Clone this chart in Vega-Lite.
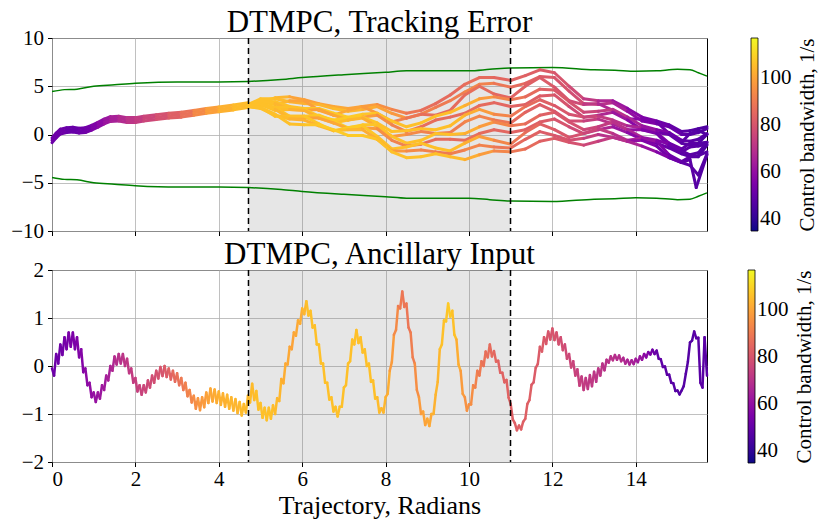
{
  "$schema": "https://vega.github.io/schema/vega-lite/v6.json",
  "padding": {"left": 10, "top": 6, "right": 2, "bottom": 2},
  "spacing": 39,
  "bounds": "flush",
  "resolve": {"scale": {"color": "independent"}},
  "datasets": {
    "span": [{"x0": 4.712, "x1": 10.996}],
    "marks": [{"x": 4.712}, {"x": 10.996}],
    "bounds": [
      {"s": "u", "x": 0, "y": 4.45}, {"s": "u", "x": 0.3, "y": 4.65}, {"s": "u", "x": 0.6, "y": 4.7}, {"s": "u", "x": 1.0, "y": 5.0}, {"s": "u", "x": 1.5, "y": 5.15}, {"s": "u", "x": 2.0, "y": 5.3}, {"s": "u", "x": 3.0, "y": 5.45}, {"s": "u", "x": 4.0, "y": 5.45}, {"s": "u", "x": 4.7, "y": 5.5}, {"s": "u", "x": 5.5, "y": 5.7}, {"s": "u", "x": 6.0, "y": 5.9}, {"s": "u", "x": 7.0, "y": 6.2}, {"s": "u", "x": 8.0, "y": 6.45}, {"s": "u", "x": 8.5, "y": 6.6}, {"s": "u", "x": 9.0, "y": 6.6}, {"s": "u", "x": 9.5, "y": 6.6}, {"s": "u", "x": 10.0, "y": 6.6}, {"s": "u", "x": 10.5, "y": 6.75}, {"s": "u", "x": 11.0, "y": 6.9}, {"s": "u", "x": 12.0, "y": 6.95}, {"s": "u", "x": 13.0, "y": 6.7}, {"s": "u", "x": 13.5, "y": 6.65}, {"s": "u", "x": 14.0, "y": 6.55}, {"s": "u", "x": 14.5, "y": 6.6}, {"s": "u", "x": 15.0, "y": 6.75}, {"s": "u", "x": 15.3, "y": 6.7}, {"s": "u", "x": 15.5, "y": 6.4}, {"s": "u", "x": 15.708, "y": 6.05},
      {"s": "l", "x": 0, "y": -4.45}, {"s": "l", "x": 0.3, "y": -4.65}, {"s": "l", "x": 0.6, "y": -4.7}, {"s": "l", "x": 1.0, "y": -5.0}, {"s": "l", "x": 1.5, "y": -5.15}, {"s": "l", "x": 2.0, "y": -5.3}, {"s": "l", "x": 3.0, "y": -5.45}, {"s": "l", "x": 4.0, "y": -5.45}, {"s": "l", "x": 4.7, "y": -5.5}, {"s": "l", "x": 5.5, "y": -5.7}, {"s": "l", "x": 6.0, "y": -5.9}, {"s": "l", "x": 7.0, "y": -6.2}, {"s": "l", "x": 8.0, "y": -6.45}, {"s": "l", "x": 8.5, "y": -6.6}, {"s": "l", "x": 9.0, "y": -6.6}, {"s": "l", "x": 9.5, "y": -6.6}, {"s": "l", "x": 10.0, "y": -6.6}, {"s": "l", "x": 10.5, "y": -6.75}, {"s": "l", "x": 11.0, "y": -6.9}, {"s": "l", "x": 12.0, "y": -6.95}, {"s": "l", "x": 13.0, "y": -6.7}, {"s": "l", "x": 13.5, "y": -6.65}, {"s": "l", "x": 14.0, "y": -6.55}, {"s": "l", "x": 14.5, "y": -6.6}, {"s": "l", "x": 15.0, "y": -6.75}, {"s": "l", "x": 15.3, "y": -6.7}, {"s": "l", "x": 15.5, "y": -6.4}, {"s": "l", "x": 15.708, "y": -6.05}
    ],
    "top": [
      {"t":21,"x":0.0,"y":-0.85,"b":52},{"t":21,"x":0.1,"y":-0.35,"b":52},{"t":21,"x":0.2,"y":0.05,"b":52},{"t":21,"x":0.35,"y":0.2,"b":51},{"t":21,"x":0.5,"y":0.25,"b":51},{"t":21,"x":0.65,"y":0.15,"b":52},{"t":21,"x":0.8,"y":0.2,"b":53},{"t":21,"x":0.95,"y":0.45,"b":56},{"t":21,"x":1.1,"y":0.75,"b":59},{"t":21,"x":1.25,"y":1.1,"b":62},{"t":21,"x":1.4,"y":1.35,"b":65},{"t":21,"x":1.6,"y":1.4,"b":68},{"t":21,"x":1.8,"y":1.25,"b":71},{"t":21,"x":2.0,"y":1.25,"b":73},{"t":21,"x":2.2,"y":1.4,"b":76},{"t":21,"x":2.5,"y":1.55,"b":79},{"t":21,"x":2.8,"y":1.7,"b":83},{"t":21,"x":3.1,"y":1.8,"b":88},{"t":21,"x":3.4,"y":2.0,"b":94},{"t":21,"x":3.7,"y":2.2,"b":99},{"t":21,"x":4.0,"y":2.35,"b":103},{"t":21,"x":4.35,"y":2.55,"b":105},{"t":21,"x":4.7,"y":2.8,"b":106},
      {"t":22,"x":0.0,"y":-0.6,"b":52},{"t":22,"x":0.1,"y":-0.1,"b":52},{"t":22,"x":0.2,"y":0.3,"b":52},{"t":22,"x":0.35,"y":0.45,"b":51},{"t":22,"x":0.5,"y":0.5,"b":51},{"t":22,"x":0.65,"y":0.4,"b":52},{"t":22,"x":0.8,"y":0.45,"b":53},{"t":22,"x":0.95,"y":0.7,"b":56},{"t":22,"x":1.1,"y":1.0,"b":59},{"t":22,"x":1.25,"y":1.35,"b":62},{"t":22,"x":1.4,"y":1.6,"b":65},{"t":22,"x":1.6,"y":1.65,"b":68},{"t":22,"x":1.8,"y":1.5,"b":71},{"t":22,"x":2.0,"y":1.5,"b":73},{"t":22,"x":2.2,"y":1.65,"b":76},{"t":22,"x":2.5,"y":1.8,"b":79},{"t":22,"x":2.8,"y":1.95,"b":83},{"t":22,"x":3.1,"y":2.05,"b":88},{"t":22,"x":3.4,"y":2.25,"b":94},{"t":22,"x":3.7,"y":2.45,"b":99},{"t":22,"x":4.0,"y":2.6,"b":103},{"t":22,"x":4.35,"y":2.8,"b":105},{"t":22,"x":4.7,"y":3.05,"b":106},
      {"t":23,"x":0.0,"y":-0.35,"b":52},{"t":23,"x":0.1,"y":0.15,"b":52},{"t":23,"x":0.2,"y":0.55,"b":52},{"t":23,"x":0.35,"y":0.7,"b":51},{"t":23,"x":0.5,"y":0.75,"b":51},{"t":23,"x":0.65,"y":0.65,"b":52},{"t":23,"x":0.8,"y":0.7,"b":53},{"t":23,"x":0.95,"y":0.95,"b":56},{"t":23,"x":1.1,"y":1.25,"b":59},{"t":23,"x":1.25,"y":1.6,"b":62},{"t":23,"x":1.4,"y":1.85,"b":65},{"t":23,"x":1.6,"y":1.9,"b":68},{"t":23,"x":1.8,"y":1.75,"b":71},{"t":23,"x":2.0,"y":1.75,"b":73},{"t":23,"x":2.2,"y":1.9,"b":76},{"t":23,"x":2.5,"y":2.05,"b":79},{"t":23,"x":2.8,"y":2.2,"b":83},{"t":23,"x":3.1,"y":2.3,"b":88},{"t":23,"x":3.4,"y":2.5,"b":94},{"t":23,"x":3.7,"y":2.7,"b":99},{"t":23,"x":4.0,"y":2.85,"b":103},{"t":23,"x":4.35,"y":3.05,"b":105},{"t":23,"x":4.7,"y":3.3,"b":106},
      {"t":1,"x":4.7,"y":3.15,"b":106},{"t":1,"x":5.0,"y":3.4,"b":106},{"t":1,"x":5.35,"y":3.8,"b":104},{"t":1,"x":5.7,"y":3.9,"b":100},{"t":1,"x":6.05,"y":3.6,"b":99},{"t":1,"x":6.4,"y":3.2,"b":100},{"t":1,"x":6.75,"y":2.9,"b":101},{"t":1,"x":7.1,"y":2.7,"b":100},{"t":1,"x":7.45,"y":2.9,"b":98},{"t":1,"x":7.8,"y":3.1,"b":95},{"t":1,"x":8.15,"y":2.6,"b":92},{"t":1,"x":8.5,"y":2.2,"b":89},{"t":1,"x":8.85,"y":2.5,"b":87},{"t":1,"x":9.2,"y":3.2,"b":86},{"t":1,"x":9.55,"y":4.1,"b":86},{"t":1,"x":9.9,"y":5.2,"b":87},{"t":1,"x":10.25,"y":5.9,"b":86},{"t":1,"x":10.6,"y":5.9,"b":85},{"t":1,"x":11.0,"y":5.6,"b":84},{"t":1,"x":11.35,"y":6.1,"b":83},{"t":1,"x":11.7,"y":6.7,"b":82},{"t":1,"x":12.05,"y":6.4,"b":80},{"t":1,"x":12.4,"y":5.0,"b":77},{"t":1,"x":12.75,"y":3.7,"b":72},{"t":1,"x":13.1,"y":3.5,"b":67},{"t":1,"x":13.45,"y":3.5,"b":62},{"t":1,"x":13.8,"y":2.7,"b":58},{"t":1,"x":14.15,"y":1.8,"b":55},{"t":1,"x":14.5,"y":1.4,"b":52},{"t":1,"x":14.8,"y":1.0,"b":50},{"t":1,"x":15.1,"y":0.3,"b":48},{"t":1,"x":15.3,"y":0.4,"b":47},{"t":1,"x":15.5,"y":0.6,"b":46},{"t":1,"x":15.708,"y":0.8,"b":46},
      {"t":2,"x":4.7,"y":3.1,"b":106},{"t":2,"x":5.0,"y":3.7,"b":106},{"t":2,"x":5.35,"y":3.7,"b":105},{"t":2,"x":5.7,"y":3.4,"b":103},{"t":2,"x":6.05,"y":3.2,"b":103},{"t":2,"x":6.4,"y":3.1,"b":104},{"t":2,"x":6.75,"y":2.7,"b":105},{"t":2,"x":7.1,"y":2.4,"b":104},{"t":2,"x":7.45,"y":2.6,"b":102},{"t":2,"x":7.8,"y":2.9,"b":100},{"t":2,"x":8.15,"y":2.2,"b":97},{"t":2,"x":8.5,"y":1.7,"b":94},{"t":2,"x":8.85,"y":2.1,"b":92},{"t":2,"x":9.2,"y":2.8,"b":90},{"t":2,"x":9.55,"y":3.5,"b":91},{"t":2,"x":9.9,"y":4.4,"b":93},{"t":2,"x":10.25,"y":5.2,"b":92},{"t":2,"x":10.6,"y":5.3,"b":89},{"t":2,"x":11.0,"y":4.9,"b":86},{"t":2,"x":11.35,"y":5.3,"b":84},{"t":2,"x":11.7,"y":6.0,"b":82},{"t":2,"x":12.05,"y":5.9,"b":80},{"t":2,"x":12.4,"y":4.5,"b":78},{"t":2,"x":12.75,"y":3.2,"b":74},{"t":2,"x":13.1,"y":3.1,"b":70},{"t":2,"x":13.45,"y":3.3,"b":65},{"t":2,"x":13.8,"y":2.4,"b":60},{"t":2,"x":14.15,"y":1.4,"b":56},{"t":2,"x":14.5,"y":1.1,"b":53},{"t":2,"x":14.8,"y":0.8,"b":51},{"t":2,"x":15.1,"y":0.0,"b":49},{"t":2,"x":15.3,"y":0.0,"b":48},{"t":2,"x":15.5,"y":0.2,"b":47},{"t":2,"x":15.708,"y":0.6,"b":46},
      {"t":3,"x":4.7,"y":3.1,"b":106},{"t":3,"x":5.0,"y":3.4,"b":106},{"t":3,"x":5.35,"y":3.1,"b":104},{"t":3,"x":5.7,"y":3.5,"b":100},{"t":3,"x":6.05,"y":3.5,"b":99},{"t":3,"x":6.4,"y":2.5,"b":100},{"t":3,"x":6.75,"y":2.0,"b":101},{"t":3,"x":7.1,"y":2.5,"b":100},{"t":3,"x":7.45,"y":2.9,"b":98},{"t":3,"x":7.8,"y":2.2,"b":95},{"t":3,"x":8.15,"y":1.3,"b":92},{"t":3,"x":8.5,"y":1.7,"b":89},{"t":3,"x":8.85,"y":2.1,"b":87},{"t":3,"x":9.2,"y":2.0,"b":86},{"t":3,"x":9.55,"y":2.5,"b":86},{"t":3,"x":9.9,"y":4.1,"b":87},{"t":3,"x":10.25,"y":5.0,"b":86},{"t":3,"x":10.6,"y":4.2,"b":85},{"t":3,"x":11.0,"y":3.8,"b":84},{"t":3,"x":11.35,"y":5.0,"b":83},{"t":3,"x":11.7,"y":5.9,"b":82},{"t":3,"x":12.05,"y":4.9,"b":80},{"t":3,"x":12.4,"y":3.5,"b":77},{"t":3,"x":12.75,"y":3.1,"b":72},{"t":3,"x":13.1,"y":3.2,"b":67},{"t":3,"x":13.45,"y":2.5,"b":62},{"t":3,"x":13.8,"y":1.6,"b":58},{"t":3,"x":14.15,"y":1.6,"b":55},{"t":3,"x":14.5,"y":1.3,"b":52},{"t":3,"x":14.8,"y":0.1,"b":50},{"t":3,"x":15.1,"y":-0.8,"b":48},{"t":3,"x":15.3,"y":0.1,"b":47},{"t":3,"x":15.5,"y":0.4,"b":46},{"t":3,"x":15.708,"y":0.0,"b":46},
      {"t":4,"x":4.7,"y":3.1,"b":106},{"t":4,"x":5.0,"y":3.5,"b":106},{"t":4,"x":5.35,"y":3.4,"b":106},{"t":4,"x":5.7,"y":2.9,"b":106},{"t":4,"x":6.05,"y":2.7,"b":107},{"t":4,"x":6.4,"y":2.7,"b":108},{"t":4,"x":6.75,"y":2.2,"b":108},{"t":4,"x":7.1,"y":1.8,"b":108},{"t":4,"x":7.45,"y":2.1,"b":107},{"t":4,"x":7.8,"y":2.2,"b":106},{"t":4,"x":8.15,"y":1.4,"b":106},{"t":4,"x":8.5,"y":0.8,"b":106},{"t":4,"x":8.85,"y":1.2,"b":106},{"t":4,"x":9.2,"y":1.9,"b":106},{"t":4,"x":9.55,"y":2.3,"b":105},{"t":4,"x":9.9,"y":3.0,"b":102},{"t":4,"x":10.25,"y":3.7,"b":98},{"t":4,"x":10.6,"y":3.9,"b":93},{"t":4,"x":11.0,"y":3.6,"b":89},{"t":4,"x":11.35,"y":3.9,"b":86},{"t":4,"x":11.7,"y":4.7,"b":83},{"t":4,"x":12.05,"y":4.6,"b":81},{"t":4,"x":12.4,"y":3.4,"b":79},{"t":4,"x":12.75,"y":2.3,"b":76},{"t":4,"x":13.1,"y":2.4,"b":73},{"t":4,"x":13.45,"y":2.6,"b":70},{"t":4,"x":13.8,"y":1.8,"b":66},{"t":4,"x":14.15,"y":0.9,"b":61},{"t":4,"x":14.5,"y":0.5,"b":56},{"t":4,"x":14.8,"y":0.2,"b":52},{"t":4,"x":15.1,"y":-0.6,"b":49},{"t":4,"x":15.3,"y":-0.7,"b":48},{"t":4,"x":15.5,"y":-0.5,"b":47},{"t":4,"x":15.708,"y":0.1,"b":47},
      {"t":5,"x":4.7,"y":3.0,"b":106},{"t":5,"x":5.0,"y":3.5,"b":106},{"t":5,"x":5.35,"y":3.2,"b":104},{"t":5,"x":5.7,"y":2.6,"b":100},{"t":5,"x":6.05,"y":2.5,"b":99},{"t":5,"x":6.4,"y":2.6,"b":100},{"t":5,"x":6.75,"y":2.0,"b":101},{"t":5,"x":7.1,"y":1.5,"b":100},{"t":5,"x":7.45,"y":1.8,"b":98},{"t":5,"x":7.8,"y":2.0,"b":95},{"t":5,"x":8.15,"y":1.0,"b":92},{"t":5,"x":8.5,"y":0.3,"b":89},{"t":5,"x":8.85,"y":0.8,"b":87},{"t":5,"x":9.2,"y":1.5,"b":86},{"t":5,"x":9.55,"y":1.8,"b":86},{"t":5,"x":9.9,"y":2.2,"b":87},{"t":5,"x":10.25,"y":3.0,"b":86},{"t":5,"x":10.6,"y":3.3,"b":85},{"t":5,"x":11.0,"y":2.9,"b":84},{"t":5,"x":11.35,"y":3.1,"b":83},{"t":5,"x":11.7,"y":4.0,"b":82},{"t":5,"x":12.05,"y":4.1,"b":80},{"t":5,"x":12.4,"y":2.9,"b":77},{"t":5,"x":12.75,"y":1.8,"b":72},{"t":5,"x":13.1,"y":2.0,"b":67},{"t":5,"x":13.45,"y":2.3,"b":62},{"t":5,"x":13.8,"y":1.5,"b":58},{"t":5,"x":14.15,"y":0.5,"b":55},{"t":5,"x":14.5,"y":0.2,"b":52},{"t":5,"x":14.8,"y":0.0,"b":50},{"t":5,"x":15.1,"y":-0.9,"b":48},{"t":5,"x":15.3,"y":-1.1,"b":47},{"t":5,"x":15.5,"y":-0.9,"b":46},{"t":5,"x":15.708,"y":0.0,"b":46},
      {"t":6,"x":4.7,"y":3.0,"b":106},{"t":6,"x":5.0,"y":3.1,"b":106},{"t":6,"x":5.35,"y":2.8,"b":106},{"t":6,"x":5.7,"y":2.8,"b":106},{"t":6,"x":6.05,"y":2.6,"b":107},{"t":6,"x":6.4,"y":1.9,"b":108},{"t":6,"x":6.75,"y":1.5,"b":108},{"t":6,"x":7.1,"y":1.7,"b":108},{"t":6,"x":7.45,"y":1.8,"b":107},{"t":6,"x":7.8,"y":1.2,"b":106},{"t":6,"x":8.15,"y":0.3,"b":106},{"t":6,"x":8.5,"y":0.4,"b":106},{"t":6,"x":8.85,"y":0.6,"b":106},{"t":6,"x":9.2,"y":0.5,"b":106},{"t":6,"x":9.55,"y":0.9,"b":105},{"t":6,"x":9.9,"y":2.0,"b":102},{"t":6,"x":10.25,"y":2.6,"b":98},{"t":6,"x":10.6,"y":2.1,"b":93},{"t":6,"x":11.0,"y":1.9,"b":89},{"t":6,"x":11.35,"y":2.9,"b":86},{"t":6,"x":11.7,"y":3.6,"b":83},{"t":6,"x":12.05,"y":3.0,"b":81},{"t":6,"x":12.4,"y":2.1,"b":79},{"t":6,"x":12.75,"y":1.8,"b":76},{"t":6,"x":13.1,"y":1.9,"b":73},{"t":6,"x":13.45,"y":1.5,"b":70},{"t":6,"x":13.8,"y":0.9,"b":66},{"t":6,"x":14.15,"y":0.7,"b":61},{"t":6,"x":14.5,"y":0.2,"b":56},{"t":6,"x":14.8,"y":-0.9,"b":52},{"t":6,"x":15.1,"y":-1.5,"b":49},{"t":6,"x":15.3,"y":-0.9,"b":48},{"t":6,"x":15.5,"y":-0.9,"b":47},{"t":6,"x":15.708,"y":-0.8,"b":47},
      {"t":7,"x":4.7,"y":3.0,"b":106},{"t":7,"x":5.0,"y":3.1,"b":106},{"t":7,"x":5.35,"y":2.5,"b":105},{"t":7,"x":5.7,"y":2.6,"b":103},{"t":7,"x":6.05,"y":2.5,"b":103},{"t":7,"x":6.4,"y":1.7,"b":104},{"t":7,"x":6.75,"y":1.2,"b":105},{"t":7,"x":7.1,"y":1.5,"b":104},{"t":7,"x":7.45,"y":1.7,"b":102},{"t":7,"x":7.8,"y":0.8,"b":100},{"t":7,"x":8.15,"y":-0.2,"b":97},{"t":7,"x":8.5,"y":0.0,"b":94},{"t":7,"x":8.85,"y":0.3,"b":92},{"t":7,"x":9.2,"y":0.1,"b":90},{"t":7,"x":9.55,"y":0.2,"b":91},{"t":7,"x":9.9,"y":1.3,"b":93},{"t":7,"x":10.25,"y":1.9,"b":92},{"t":7,"x":10.6,"y":1.5,"b":89},{"t":7,"x":11.0,"y":1.2,"b":86},{"t":7,"x":11.35,"y":2.3,"b":84},{"t":7,"x":11.7,"y":3.1,"b":82},{"t":7,"x":12.05,"y":2.4,"b":80},{"t":7,"x":12.4,"y":1.4,"b":78},{"t":7,"x":12.75,"y":1.4,"b":74},{"t":7,"x":13.1,"y":1.6,"b":70},{"t":7,"x":13.45,"y":1.1,"b":65},{"t":7,"x":13.8,"y":0.5,"b":60},{"t":7,"x":14.15,"y":0.5,"b":56},{"t":7,"x":14.5,"y":0.1,"b":53},{"t":7,"x":14.8,"y":-1.2,"b":51},{"t":7,"x":15.1,"y":-1.8,"b":49},{"t":7,"x":15.3,"y":-1.3,"b":48},{"t":7,"x":15.5,"y":-1.2,"b":47},{"t":7,"x":15.708,"y":-1.0,"b":46},
      {"t":8,"x":4.7,"y":3.0,"b":106},{"t":8,"x":5.0,"y":3.2,"b":106},{"t":8,"x":5.35,"y":2.8,"b":106},{"t":8,"x":5.7,"y":1.9,"b":106},{"t":8,"x":6.05,"y":1.9,"b":107},{"t":8,"x":6.4,"y":2.0,"b":108},{"t":8,"x":6.75,"y":1.4,"b":108},{"t":8,"x":7.1,"y":0.7,"b":108},{"t":8,"x":7.45,"y":1.0,"b":107},{"t":8,"x":7.8,"y":1.0,"b":106},{"t":8,"x":8.15,"y":-0.2,"b":106},{"t":8,"x":8.5,"y":-0.9,"b":106},{"t":8,"x":8.85,"y":-0.6,"b":106},{"t":8,"x":9.2,"y":0.1,"b":106},{"t":8,"x":9.55,"y":0.0,"b":105},{"t":8,"x":9.9,"y":0.1,"b":102},{"t":8,"x":10.25,"y":0.8,"b":98},{"t":8,"x":10.6,"y":1.3,"b":93},{"t":8,"x":11.0,"y":0.9,"b":89},{"t":8,"x":11.35,"y":1.1,"b":86},{"t":8,"x":11.7,"y":2.0,"b":83},{"t":8,"x":12.05,"y":2.3,"b":81},{"t":8,"x":12.4,"y":1.3,"b":79},{"t":8,"x":12.75,"y":0.5,"b":76},{"t":8,"x":13.1,"y":0.8,"b":73},{"t":8,"x":13.45,"y":1.3,"b":70},{"t":8,"x":13.8,"y":0.5,"b":66},{"t":8,"x":14.15,"y":-0.3,"b":61},{"t":8,"x":14.5,"y":-0.6,"b":56},{"t":8,"x":14.8,"y":-1.0,"b":52},{"t":8,"x":15.1,"y":-1.7,"b":49},{"t":8,"x":15.3,"y":-2.1,"b":48},{"t":8,"x":15.5,"y":-1.9,"b":47},{"t":8,"x":15.708,"y":-0.8,"b":47},
      {"t":9,"x":4.7,"y":2.9,"b":106},{"t":9,"x":5.0,"y":3.1,"b":106},{"t":9,"x":5.35,"y":2.6,"b":104},{"t":9,"x":5.7,"y":1.7,"b":100},{"t":9,"x":6.05,"y":1.7,"b":99},{"t":9,"x":6.4,"y":1.7,"b":100},{"t":9,"x":6.75,"y":1.2,"b":101},{"t":9,"x":7.1,"y":0.6,"b":100},{"t":9,"x":7.45,"y":0.7,"b":98},{"t":9,"x":7.8,"y":0.6,"b":95},{"t":9,"x":8.15,"y":-0.6,"b":92},{"t":9,"x":8.5,"y":-1.2,"b":89},{"t":9,"x":8.85,"y":-1.0,"b":87},{"t":9,"x":9.2,"y":-0.5,"b":86},{"t":9,"x":9.55,"y":-0.5,"b":86},{"t":9,"x":9.9,"y":-0.6,"b":87},{"t":9,"x":10.25,"y":0.1,"b":86},{"t":9,"x":10.6,"y":0.5,"b":85},{"t":9,"x":11.0,"y":0.2,"b":84},{"t":9,"x":11.35,"y":0.5,"b":83},{"t":9,"x":11.7,"y":1.3,"b":82},{"t":9,"x":12.05,"y":1.6,"b":80},{"t":9,"x":12.4,"y":0.8,"b":77},{"t":9,"x":12.75,"y":0.1,"b":72},{"t":9,"x":13.1,"y":0.5,"b":67},{"t":9,"x":13.45,"y":0.8,"b":62},{"t":9,"x":13.8,"y":0.2,"b":58},{"t":9,"x":14.15,"y":-0.5,"b":55},{"t":9,"x":14.5,"y":-0.9,"b":52},{"t":9,"x":14.8,"y":-1.4,"b":50},{"t":9,"x":15.1,"y":-2.0,"b":48},{"t":9,"x":15.3,"y":-2.3,"b":47},{"t":9,"x":15.5,"y":-2.3,"b":46},{"t":9,"x":15.708,"y":-1.1,"b":46},
      {"t":10,"x":4.7,"y":2.9,"b":106},{"t":10,"x":5.0,"y":2.8,"b":106},{"t":10,"x":5.35,"y":1.9,"b":106},{"t":10,"x":5.7,"y":1.9,"b":106},{"t":10,"x":6.05,"y":1.9,"b":107},{"t":10,"x":6.4,"y":1.1,"b":108},{"t":10,"x":6.75,"y":0.4,"b":108},{"t":10,"x":7.1,"y":0.7,"b":108},{"t":10,"x":7.45,"y":0.9,"b":107},{"t":10,"x":7.8,"y":-0.2,"b":106},{"t":10,"x":8.15,"y":-1.5,"b":106},{"t":10,"x":8.5,"y":-1.3,"b":106},{"t":10,"x":8.85,"y":-0.9,"b":106},{"t":10,"x":9.2,"y":-1.4,"b":106},{"t":10,"x":9.55,"y":-1.7,"b":105},{"t":10,"x":9.9,"y":-0.9,"b":102},{"t":10,"x":10.25,"y":-0.2,"b":98},{"t":10,"x":10.6,"y":-0.6,"b":93},{"t":10,"x":11.0,"y":-1.0,"b":89},{"t":10,"x":11.35,"y":0.2,"b":86},{"t":10,"x":11.7,"y":1.1,"b":83},{"t":10,"x":12.05,"y":0.5,"b":81},{"t":10,"x":12.4,"y":-0.3,"b":79},{"t":10,"x":12.75,"y":0.1,"b":76},{"t":10,"x":13.1,"y":0.6,"b":73},{"t":10,"x":13.45,"y":0.1,"b":70},{"t":10,"x":13.8,"y":-0.6,"b":66},{"t":10,"x":14.15,"y":-0.4,"b":61},{"t":10,"x":14.5,"y":-0.7,"b":56},{"t":10,"x":14.8,"y":-2.1,"b":52},{"t":10,"x":15.1,"y":-2.8,"b":49},{"t":10,"x":15.3,"y":-2.3,"b":48},{"t":10,"x":15.5,"y":-2.2,"b":47},{"t":10,"x":15.708,"y":-1.8,"b":47},
      {"t":11,"x":4.7,"y":2.9,"b":106},{"t":11,"x":5.0,"y":2.7,"b":106},{"t":11,"x":5.35,"y":2.0,"b":105},{"t":11,"x":5.7,"y":1.6,"b":103},{"t":11,"x":6.05,"y":1.5,"b":103},{"t":11,"x":6.4,"y":0.9,"b":104},{"t":11,"x":6.75,"y":0.4,"b":105},{"t":11,"x":7.1,"y":0.5,"b":104},{"t":11,"x":7.45,"y":0.5,"b":102},{"t":11,"x":7.8,"y":-0.5,"b":100},{"t":11,"x":8.15,"y":-1.7,"b":97},{"t":11,"x":8.5,"y":-1.7,"b":94},{"t":11,"x":8.85,"y":-1.6,"b":92},{"t":11,"x":9.2,"y":-1.8,"b":90},{"t":11,"x":9.55,"y":-2.0,"b":91},{"t":11,"x":9.9,"y":-1.6,"b":93},{"t":11,"x":10.25,"y":-1.1,"b":92},{"t":11,"x":10.6,"y":-1.3,"b":89},{"t":11,"x":11.0,"y":-1.4,"b":86},{"t":11,"x":11.35,"y":-0.5,"b":84},{"t":11,"x":11.7,"y":0.3,"b":82},{"t":11,"x":12.05,"y":-0.1,"b":80},{"t":11,"x":12.4,"y":-0.6,"b":78},{"t":11,"x":12.75,"y":-0.4,"b":74},{"t":11,"x":13.1,"y":0.0,"b":70},{"t":11,"x":13.45,"y":-0.3,"b":65},{"t":11,"x":13.8,"y":-0.7,"b":60},{"t":11,"x":14.15,"y":-0.6,"b":56},{"t":11,"x":14.5,"y":-1.2,"b":53},{"t":11,"x":14.8,"y":-2.4,"b":51},{"t":11,"x":15.1,"y":-2.9,"b":49},{"t":11,"x":15.3,"y":-2.6,"b":48},{"t":11,"x":15.45,"y":-5.5,"b":47},{"t":11,"x":15.708,"y":-2.1,"b":46},
      {"t":12,"x":4.7,"y":2.9,"b":106},{"t":12,"x":5.0,"y":2.8,"b":106},{"t":12,"x":5.35,"y":2.1,"b":106},{"t":12,"x":5.7,"y":1.1,"b":106},{"t":12,"x":6.05,"y":1.0,"b":107},{"t":12,"x":6.4,"y":1.0,"b":108},{"t":12,"x":6.75,"y":0.5,"b":108},{"t":12,"x":7.1,"y":-0.1,"b":108},{"t":12,"x":7.45,"y":-0.1,"b":107},{"t":12,"x":7.8,"y":-0.5,"b":106},{"t":12,"x":8.15,"y":-1.8,"b":106},{"t":12,"x":8.5,"y":-2.4,"b":106},{"t":12,"x":8.85,"y":-2.3,"b":106},{"t":12,"x":9.2,"y":-2.0,"b":106},{"t":12,"x":9.55,"y":-2.3,"b":105},{"t":12,"x":9.9,"y":-2.6,"b":102},{"t":12,"x":10.25,"y":-2.1,"b":98},{"t":12,"x":10.6,"y":-1.7,"b":93},{"t":12,"x":11.0,"y":-1.8,"b":89},{"t":12,"x":11.35,"y":-1.5,"b":86},{"t":12,"x":11.7,"y":-0.7,"b":83},{"t":12,"x":12.05,"y":-0.4,"b":81},{"t":12,"x":12.4,"y":-0.8,"b":79},{"t":12,"x":12.75,"y":-1.1,"b":76},{"t":12,"x":13.1,"y":-0.7,"b":73},{"t":12,"x":13.45,"y":-0.3,"b":70},{"t":12,"x":13.8,"y":-0.7,"b":66},{"t":12,"x":14.15,"y":-1.2,"b":61},{"t":12,"x":14.5,"y":-1.8,"b":56},{"t":12,"x":14.8,"y":-2.4,"b":52},{"t":12,"x":15.1,"y":-2.9,"b":49},{"t":12,"x":15.3,"y":-3.2,"b":48},{"t":12,"x":15.5,"y":-4.2,"b":47},{"t":12,"x":15.708,"y":-2.0,"b":47}
    ],
    "bot": [
      {"x":0.0,"y":-0.05,"b":52},{"x":0.05,"y":-0.2,"b":52},{"x":0.1,"y":0.25,"b":52},{"x":0.15,"y":0.05,"b":52},{"x":0.2,"y":0.45,"b":53},{"x":0.25,"y":0.23,"b":53},{"x":0.3,"y":0.6,"b":54},{"x":0.35,"y":0.35,"b":54},{"x":0.4,"y":0.7,"b":55},{"x":0.45,"y":0.4,"b":55},
      {"x":0.5,"y":0.7,"b":55},{"x":0.55,"y":0.35,"b":55},{"x":0.6,"y":0.6,"b":56},{"x":0.65,"y":0.18,"b":56},{"x":0.7,"y":0.35,"b":57},{"x":0.75,"y":-0.13,"b":57},{"x":0.8,"y":-0.05,"b":59},{"x":0.85,"y":-0.4,"b":59},{"x":0.9,"y":-0.35,"b":60},{"x":0.95,"y":-0.65,"b":60},
      {"x":1.0,"y":-0.55,"b":61},{"x":1.05,"y":-0.75,"b":61},{"x":1.1,"y":-0.55,"b":62},{"x":1.15,"y":-0.68,"b":62},{"x":1.2,"y":-0.4,"b":63},{"x":1.25,"y":-0.5,"b":63},{"x":1.3,"y":-0.2,"b":65},{"x":1.35,"y":-0.3,"b":65},{"x":1.4,"y":0.0,"b":67},{"x":1.45,"y":-0.1,"b":67},
      {"x":1.5,"y":0.2,"b":69},{"x":1.55,"y":0.03,"b":69},{"x":1.6,"y":0.25,"b":70},{"x":1.65,"y":0.05,"b":70},{"x":1.7,"y":0.25,"b":71},{"x":1.75,"y":0.0,"b":71},{"x":1.8,"y":0.15,"b":72},{"x":1.85,"y":-0.15,"b":72},{"x":1.9,"y":-0.05,"b":73},{"x":1.95,"y":-0.35,"b":73},
      {"x":2.0,"y":-0.25,"b":74},{"x":2.05,"y":-0.53,"b":74},{"x":2.1,"y":-0.4,"b":75},{"x":2.15,"y":-0.6,"b":75},{"x":2.2,"y":-0.4,"b":76},{"x":2.25,"y":-0.55,"b":76},{"x":2.3,"y":-0.3,"b":77},{"x":2.35,"y":-0.45,"b":77},{"x":2.4,"y":-0.2,"b":78},{"x":2.45,"y":-0.35,"b":78},
      {"x":2.5,"y":-0.1,"b":79},{"x":2.55,"y":-0.26,"b":79},{"x":2.6,"y":-0.02,"b":80},{"x":2.65,"y":-0.21,"b":80},{"x":2.7,"y":0.0,"b":82},{"x":2.75,"y":-0.23,"b":82},{"x":2.8,"y":-0.05,"b":84},{"x":2.85,"y":-0.28,"b":84},{"x":2.9,"y":-0.1,"b":86},{"x":2.95,"y":-0.33,"b":86},
      {"x":3.0,"y":-0.15,"b":88},{"x":3.05,"y":-0.4,"b":88},{"x":3.1,"y":-0.25,"b":90},{"x":3.15,"y":-0.5,"b":90},{"x":3.2,"y":-0.35,"b":92},{"x":3.25,"y":-0.63,"b":92},{"x":3.3,"y":-0.5,"b":93},{"x":3.35,"y":-0.76,"b":93},{"x":3.4,"y":-0.62,"b":95},{"x":3.45,"y":-0.89,"b":95},
      {"x":3.5,"y":-0.67,"b":97},{"x":3.55,"y":-0.92,"b":97},{"x":3.6,"y":-0.65,"b":98},{"x":3.65,"y":-0.86,"b":98},{"x":3.7,"y":-0.55,"b":100},{"x":3.75,"y":-0.77,"b":100},{"x":3.8,"y":-0.47,"b":101},{"x":3.85,"y":-0.74,"b":101},{"x":3.9,"y":-0.49,"b":102},{"x":3.95,"y":-0.77,"b":102},
      {"x":4.0,"y":-0.53,"b":103},{"x":4.05,"y":-0.81,"b":103},{"x":4.1,"y":-0.57,"b":103},{"x":4.15,"y":-0.85,"b":103},{"x":4.2,"y":-0.6,"b":104},{"x":4.25,"y":-0.89,"b":104},{"x":4.3,"y":-0.65,"b":104},{"x":4.35,"y":-0.93,"b":104},{"x":4.4,"y":-0.69,"b":104},{"x":4.45,"y":-0.98,"b":104},
      {"x":4.5,"y":-0.75,"b":105},{"x":4.55,"y":-1.03,"b":105},{"x":4.6,"y":-0.79,"b":105},{"x":4.65,"y":-0.97,"b":105},{"x":4.7,"y":-0.62,"b":105},{"x":4.75,"y":-0.76,"b":105},{"x":4.8,"y":-0.37,"b":105},{"x":4.85,"y":-0.71,"b":105},{"x":4.9,"y":-0.52,"b":106},{"x":4.95,"y":-0.91,"b":106},
      {"x":5.0,"y":-0.77,"b":106},{"x":5.05,"y":-1.08,"b":106},{"x":5.1,"y":-0.87,"b":106},{"x":5.15,"y":-1.13,"b":106},{"x":5.2,"y":-0.87,"b":106},{"x":5.25,"y":-1.1,"b":106},{"x":5.3,"y":-0.82,"b":105},{"x":5.35,"y":-1.0,"b":105},{"x":5.4,"y":-0.67,"b":104},{"x":5.45,"y":-0.73,"b":104},
      {"x":5.5,"y":-0.27,"b":102},{"x":5.55,"y":-0.36,"b":102},{"x":5.6,"y":0.05,"b":101},{"x":5.65,"y":0.03,"b":101},{"x":5.7,"y":0.4,"b":100},{"x":5.75,"y":0.35,"b":100},{"x":5.8,"y":0.7,"b":101},{"x":5.85,"y":0.63,"b":101},{"x":5.9,"y":0.95,"b":102},{"x":5.95,"y":0.88,"b":102},
      {"x":6.0,"y":1.2,"b":104},{"x":6.05,"y":1.08,"b":104},{"x":6.1,"y":1.35,"b":106},{"x":6.15,"y":1.05,"b":106},{"x":6.2,"y":1.15,"b":106},{"x":6.25,"y":0.8,"b":106},{"x":6.3,"y":0.85,"b":106},{"x":6.35,"y":0.45,"b":106},{"x":6.4,"y":0.45,"b":106},{"x":6.45,"y":0.05,"b":106},
      {"x":6.5,"y":0.05,"b":106},{"x":6.55,"y":-0.35,"b":106},{"x":6.6,"y":-0.35,"b":106},{"x":6.65,"y":-0.7,"b":106},{"x":6.7,"y":-0.65,"b":106},{"x":6.75,"y":-0.95,"b":106},{"x":6.8,"y":-0.85,"b":106},{"x":6.85,"y":-1.05,"b":106},{"x":6.9,"y":-0.85,"b":106},{"x":6.95,"y":-0.85,"b":106},
      {"x":7.0,"y":-0.45,"b":106},{"x":7.05,"y":-0.4,"b":106},{"x":7.1,"y":0.05,"b":106},{"x":7.15,"y":0.1,"b":106},{"x":7.2,"y":0.55,"b":106},{"x":7.25,"y":0.45,"b":106},{"x":7.3,"y":0.75,"b":106},{"x":7.35,"y":0.48,"b":106},{"x":7.4,"y":0.6,"b":106},{"x":7.45,"y":0.28,"b":106},
      {"x":7.5,"y":0.35,"b":106},{"x":7.55,"y":0.0,"b":106},{"x":7.6,"y":0.05,"b":106},{"x":7.65,"y":-0.33,"b":106},{"x":7.7,"y":-0.3,"b":106},{"x":7.75,"y":-0.68,"b":106},{"x":7.8,"y":-0.65,"b":105},{"x":7.85,"y":-0.97,"b":105},{"x":7.9,"y":-0.88,"b":104},{"x":7.95,"y":-0.97,"b":104},
      {"x":8.0,"y":-0.65,"b":102},{"x":8.05,"y":-0.58,"b":102},{"x":8.1,"y":-0.1,"b":98},{"x":8.15,"y":0.08,"b":98},{"x":8.2,"y":0.65,"b":94},{"x":8.25,"y":0.75,"b":94},{"x":8.3,"y":1.25,"b":90},{"x":8.35,"y":1.2,"b":90},{"x":8.4,"y":1.55,"b":89},{"x":8.45,"y":1.23,"b":89},
      {"x":8.5,"y":1.3,"b":89},{"x":8.55,"y":0.8,"b":89},{"x":8.6,"y":0.7,"b":91},{"x":8.65,"y":0.18,"b":91},{"x":8.7,"y":0.05,"b":95},{"x":8.75,"y":-0.5,"b":95},{"x":8.8,"y":-0.65,"b":98},{"x":8.85,"y":-1.0,"b":98},{"x":8.9,"y":-0.95,"b":100},{"x":8.95,"y":-1.23,"b":100},
      {"x":9.0,"y":-1.1,"b":101},{"x":9.05,"y":-1.25,"b":101},{"x":9.1,"y":-1.0,"b":103},{"x":9.15,"y":-1.0,"b":103},{"x":9.2,"y":-0.6,"b":104},{"x":9.25,"y":-0.33,"b":104},{"x":9.3,"y":0.35,"b":106},{"x":9.35,"y":0.45,"b":106},{"x":9.4,"y":0.95,"b":107},{"x":9.45,"y":0.93,"b":107},
      {"x":9.5,"y":1.3,"b":108},{"x":9.55,"y":1.03,"b":108},{"x":9.6,"y":1.15,"b":106},{"x":9.65,"y":0.65,"b":106},{"x":9.7,"y":0.55,"b":102},{"x":9.75,"y":0.03,"b":102},{"x":9.8,"y":-0.1,"b":98},{"x":9.85,"y":-0.58,"b":98},{"x":9.9,"y":-0.65,"b":96},{"x":9.95,"y":-0.93,"b":96},
      {"x":10.0,"y":-0.8,"b":95},{"x":10.05,"y":-0.8,"b":95},{"x":10.1,"y":-0.4,"b":92},{"x":10.15,"y":-0.45,"b":92},{"x":10.2,"y":-0.1,"b":90},{"x":10.25,"y":-0.2,"b":90},{"x":10.3,"y":0.1,"b":88},{"x":10.35,"y":0.0,"b":88},{"x":10.4,"y":0.3,"b":87},{"x":10.45,"y":0.18,"b":87},
      {"x":10.5,"y":0.45,"b":86},{"x":10.55,"y":0.2,"b":86},{"x":10.6,"y":0.31,"b":85},{"x":10.65,"y":0.09,"b":85},{"x":10.7,"y":0.11,"b":84},{"x":10.75,"y":-0.14,"b":84},{"x":10.8,"y":-0.14,"b":84},{"x":10.85,"y":-0.34,"b":84},{"x":10.9,"y":-0.29,"b":84},{"x":10.95,"y":-0.66,"b":84},
      {"x":11.0,"y":-0.79,"b":83},{"x":11.05,"y":-1.11,"b":83},{"x":11.1,"y":-1.19,"b":83},{"x":11.15,"y":-1.34,"b":83},{"x":11.2,"y":-1.24,"b":83},{"x":11.25,"y":-1.32,"b":83},{"x":11.3,"y":-1.16,"b":83},{"x":11.35,"y":-1.1,"b":83},{"x":11.4,"y":-0.79,"b":83},{"x":11.45,"y":-0.71,"b":83},
      {"x":11.5,"y":-0.39,"b":82},{"x":11.55,"y":-0.34,"b":82},{"x":11.6,"y":-0.04,"b":82},{"x":11.65,"y":0.04,"b":82},{"x":11.7,"y":0.4,"b":82},{"x":11.75,"y":0.3,"b":82},{"x":11.8,"y":0.6,"b":81},{"x":11.85,"y":0.46,"b":81},{"x":11.9,"y":0.72,"b":80},{"x":11.95,"y":0.55,"b":80},
      {"x":12.0,"y":0.78,"b":80},{"x":12.05,"y":0.54,"b":80},{"x":12.1,"y":0.7,"b":79},{"x":12.15,"y":0.45,"b":79},{"x":12.2,"y":0.6,"b":78},{"x":12.25,"y":0.33,"b":78},{"x":12.3,"y":0.45,"b":77},{"x":12.35,"y":0.15,"b":77},{"x":12.4,"y":0.25,"b":76},{"x":12.45,"y":-0.03,"b":76},
      {"x":12.5,"y":0.1,"b":75},{"x":12.55,"y":-0.2,"b":75},{"x":12.6,"y":-0.07,"b":74},{"x":12.65,"y":-0.41,"b":74},{"x":12.7,"y":-0.22,"b":73},{"x":12.75,"y":-0.5,"b":73},{"x":12.8,"y":-0.25,"b":72},{"x":12.85,"y":-0.48,"b":72},{"x":12.9,"y":-0.19,"b":72},{"x":12.95,"y":-0.42,"b":72},
      {"x":13.0,"y":-0.12,"b":71},{"x":13.05,"y":-0.33,"b":71},{"x":13.1,"y":-0.05,"b":71},{"x":13.15,"y":-0.2,"b":71},{"x":13.2,"y":0.05,"b":70},{"x":13.25,"y":-0.09,"b":70},{"x":13.3,"y":0.13,"b":70},{"x":13.35,"y":0.07,"b":70},{"x":13.4,"y":0.2,"b":70},{"x":13.45,"y":0.12,"b":70},
      {"x":13.5,"y":0.23,"b":69},{"x":13.55,"y":0.13,"b":69},{"x":13.6,"y":0.22,"b":69},{"x":13.65,"y":0.1,"b":69},{"x":13.7,"y":0.17,"b":67},{"x":13.75,"y":0.05,"b":67},{"x":13.8,"y":0.13,"b":66},{"x":13.85,"y":0.03,"b":66},{"x":13.9,"y":0.12,"b":65},{"x":13.95,"y":0.04,"b":65},
      {"x":14.0,"y":0.15,"b":63},{"x":14.05,"y":0.08,"b":63},{"x":14.1,"y":0.2,"b":61},{"x":14.15,"y":0.13,"b":61},{"x":14.2,"y":0.25,"b":58},{"x":14.25,"y":0.18,"b":58},{"x":14.3,"y":0.29,"b":55},{"x":14.35,"y":0.24,"b":55},{"x":14.4,"y":0.34,"b":52},{"x":14.45,"y":0.25,"b":52},
      {"x":14.5,"y":0.32,"b":50},{"x":14.55,"y":0.15,"b":50},{"x":14.6,"y":0.14,"b":49},{"x":14.65,"y":-0.02,"b":49},{"x":14.7,"y":-0.01,"b":48},{"x":14.75,"y":-0.18,"b":48},{"x":14.8,"y":-0.18,"b":48},{"x":14.85,"y":-0.35,"b":48},{"x":14.9,"y":-0.36,"b":47},{"x":14.95,"y":-0.52,"b":47},
      {"x":15.0,"y":-0.51,"b":47},{"x":15.05,"y":-0.59,"b":47},{"x":15.1,"y":-0.51,"b":47},{"x":15.15,"y":-0.42,"b":47},{"x":15.2,"y":-0.16,"b":47},{"x":15.25,"y":0.09,"b":47},{"x":15.3,"y":0.49,"b":47},{"x":15.35,"y":0.53,"b":47},{"x":15.4,"y":0.72,"b":48},{"x":15.45,"y":0.58,"b":48},
      {"x":15.5,"y":0.59,"b":48},{"x":15.55,"y":-0.35,"b":48},{"x":15.6,"y":-0.45,"b":48},{"x":15.65,"y":0.6,"b":48},{"x":15.708,"y":-0.2,"b":48}
    ]
  },
  "vconcat": [
    {
      "width": 655,
      "height": 193,
      "title": "DTMPC, Tracking Error",
      "layer": [
        {
          "data": {"name": "span"},
          "mark": {"type": "rect", "color": "#808080", "opacity": 0.2},
          "encoding": {
            "x": {"field": "x0", "type": "quantitative", "scale": {"domain": [0, 15.708], "nice": false, "zero": false}, "axis": {"title": null, "labels": false, "values": [0, 2, 4, 6, 8, 10, 12, 14]}},
            "x2": {"field": "x1"}
          }
        },
        {
          "data": {"name": "bounds"},
          "mark": {"type": "line", "color": "#008000", "strokeWidth": 1.5, "interpolate": "monotone"},
          "encoding": {
            "x": {"field": "x", "type": "quantitative", "scale": {"domain": [0, 15.708], "nice": false, "zero": false}, "axis": {"title": null, "labels": false, "values": [0, 2, 4, 6, 8, 10, 12, 14]}},
            "y": {"field": "y", "type": "quantitative", "scale": {"domain": [-10, 10], "nice": false}, "axis": {"title": null, "values": [-10, -5, 0, 5, 10]}},
            "detail": {"field": "s"}
          }
        },
        {
          "data": {"name": "top"},
          "transform": [
            {"window": [{"op": "lead", "field": "x", "as": "x2"}, {"op": "lead", "field": "y", "as": "y2"}], "groupby": ["t"], "sort": [{"field": "x"}]},
            {"filter": "isValid(datum.x2)"}
          ],
          "mark": {"type": "rule", "strokeWidth": 3, "strokeCap": "round"},
          "encoding": {
            "x": {"field": "x", "type": "quantitative", "scale": {"domain": [0, 15.708], "nice": false, "zero": false}, "axis": {"title": null, "labels": false, "values": [0, 2, 4, 6, 8, 10, 12, 14]}},
            "x2": {"field": "x2"},
            "y": {"field": "y", "type": "quantitative", "scale": {"domain": [-10, 10], "nice": false}, "axis": {"title": null, "values": [-10, -5, 0, 5, 10]}},
            "y2": {"field": "y2"},
            "color": {"field": "b", "type": "quantitative", "scale": {"scheme": "plasma", "domain": [35, 117]}, "legend": {"title": "Control bandwidth, 1/s", "values": [40, 60, 80, 100], "encode": {"title": {"update": {"angle": {"value": 270}, "baseline": {"value": "top"}}}}}}
          }
        },
        {
          "data": {"name": "marks"},
          "mark": {"type": "rule", "color": "#000000", "strokeWidth": 1.5, "strokeDash": [6, 4]},
          "encoding": {
            "x": {"field": "x", "type": "quantitative", "scale": {"domain": [0, 15.708], "nice": false, "zero": false}, "axis": {"title": null, "labels": false, "values": [0, 2, 4, 6, 8, 10, 12, 14]}}
          }
        }
      ]
    },
    {
      "width": 655,
      "height": 192,
      "title": "DTMPC, Ancillary Input",
      "layer": [
        {
          "data": {"name": "span"},
          "mark": {"type": "rect", "color": "#808080", "opacity": 0.2},
          "encoding": {
            "x": {"field": "x0", "type": "quantitative", "scale": {"domain": [0, 15.708], "nice": false, "zero": false}, "axis": {"title": "Trajectory, Radians", "values": [0, 2, 4, 6, 8, 10, 12, 14]}},
            "x2": {"field": "x1"}
          }
        },
        {
          "data": {"name": "bot"},
          "transform": [
            {"window": [{"op": "lead", "field": "x", "as": "x2"}, {"op": "lead", "field": "y", "as": "y2"}], "sort": [{"field": "x"}]},
            {"filter": "isValid(datum.x2)"}
          ],
          "mark": {"type": "rule", "strokeWidth": 2.5, "strokeCap": "round"},
          "encoding": {
            "x": {"field": "x", "type": "quantitative", "scale": {"domain": [0, 15.708], "nice": false, "zero": false}, "axis": {"title": "Trajectory, Radians", "values": [0, 2, 4, 6, 8, 10, 12, 14]}},
            "x2": {"field": "x2"},
            "y": {"field": "y", "type": "quantitative", "scale": {"domain": [-2, 2], "nice": false}, "axis": {"title": null, "values": [-2, -1, 0, 1, 2]}},
            "y2": {"field": "y2"},
            "color": {"field": "b", "type": "quantitative", "scale": {"scheme": "plasma", "domain": [35, 117]}, "legend": {"title": "Control bandwidth, 1/s", "values": [40, 60, 80, 100], "encode": {"title": {"update": {"angle": {"value": 270}, "baseline": {"value": "top"}}}}}}
          }
        },
        {
          "data": {"name": "marks"},
          "mark": {"type": "rule", "color": "#000000", "strokeWidth": 1.5, "strokeDash": [6, 4]},
          "encoding": {
            "x": {"field": "x", "type": "quantitative", "scale": {"domain": [0, 15.708], "nice": false, "zero": false}, "axis": {"title": "Trajectory, Radians", "values": [0, 2, 4, 6, 8, 10, 12, 14]}}
          }
        }
      ]
    }
  ],
  "config": {
    "font": "Liberation Serif",
    "view": {"stroke": "#000000", "strokeWidth": 1},
    "axis": {
      "domain": false, "grid": true, "gridColor": "#b0b0b0", "gridWidth": 0.8,
      "tickColor": "#000000", "tickSize": 4.5, "tickWidth": 1,
      "labelFont": "Liberation Serif", "labelFontSize": 21, "labelColor": "#000000",
      "titleFont": "Liberation Serif", "titleFontSize": 26, "titleFontWeight": "normal", "titleColor": "#000000"
    },
    "axisY": {"labelPadding": 4},
    "axisX": {"labelPadding": 2, "titlePadding": 3},
    "title": {"font": "Liberation Serif", "fontSize": 31, "fontWeight": "normal", "color": "#000000", "offset": -12, "baseline": "alphabetic", "frame": "group"},
    "legend": {
      "orient": "right", "offset": 41, "padding": 0,
      "gradientLength": 193, "gradientThickness": 7, "gradientStrokeColor": "#000000", "gradientStrokeWidth": 0.8,
      "labelFont": "Liberation Serif", "labelFontSize": 21, "labelColor": "#000000", "labelOffset": 11,
      "titleFont": "Liberation Serif", "titleFontSize": 21, "titleFontWeight": "normal", "titleColor": "#000000",
      "titleOrient": "right", "titleAnchor": "middle", "titlePadding": 5, "titleLimit": 400
    }
  }
}
